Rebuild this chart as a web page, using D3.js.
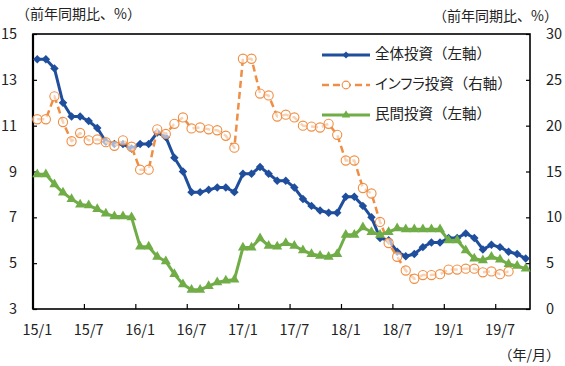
<!DOCTYPE html>
<html>
<head>
<meta charset="utf-8">
<script src="https://cdn.jsdelivr.net/npm/d3@7"></script>
<style>
  body { margin: 0; background: #fff; }
  svg { display: block; font-family: "Noto Sans CJK JP", "Noto Sans", sans-serif; }
  .tick text { fill: #222; }
</style>
</head>
<body>
<svg id="chart" width="565" height="366"></svg>
<script>
// months 2015/1 .. 2019/10
var months = [];
for (var yy = 15; yy <= 19; yy++) {
	for (var mm = 1; mm <= 12; mm++) {
		if (yy == 19 && mm > 10) break;
		months.push(yy + "/" + mm);
	}
}
var tickLabels = ["15/1", "15/7", "16/1", "16/7", "17/1", "17/7", "18/1", "18/7", "19/1", "19/7"];
var leftTicks = [3, 5, 7, 9, 11, 13, 15];
var rightTicks = [0, 5, 10, 15, 20, 25, 30];

// 全体投資 (left axis)
var total = [
	13.9, 13.9, 13.5, 12.0, 11.4, 11.4, 11.2, 10.9, 10.3, 10.2, 10.2, 10.0,
	10.2, 10.2, 10.7, 10.5, 9.6, 9.0, 8.1, 8.1, 8.2, 8.3, 8.3, 8.1,
	8.9, 8.9, 9.2, 8.9, 8.6, 8.6, 8.3, 7.8, 7.5, 7.3, 7.2, 7.2,
	7.9, 7.9, 7.5, 7.0, 6.1, 6.0, 5.5, 5.3, 5.4, 5.7, 5.9, 5.9,
	6.1, 6.1, 6.3, 6.1, 5.6, 5.8, 5.7, 5.5, 5.4, 5.2
];
// インフラ投資 (right axis), ends 19/8
var infra = [
	20.7, 20.7, 23.2, 20.4, 18.3, 19.2, 18.4, 18.5, 18.2, 17.8, 18.4, 17.7,
	15.2, 15.2, 19.6, 19.1, 20.2, 20.9, 19.7, 19.8, 19.6, 19.5, 18.9, 17.6,
	27.3, 27.3, 23.5, 23.3, 21.0, 21.2, 20.9, 20.0, 19.9, 19.8, 20.2, 19.0,
	16.2, 16.2, 13.2, 12.6, 9.5, 7.2, 5.7, 4.2, 3.3, 3.7, 3.7, 3.8,
	4.3, 4.3, 4.4, 4.4, 4.0, 4.1, 3.8, 4.1
];
// 民間投資 (drawn on right scale)
var privateInv = [
	14.7, 14.7, 13.6, 12.7, 12.0, 11.4, 11.3, 10.9, 10.4, 10.1, 10.1, 10.0,
	6.8, 6.8, 5.7, 5.2, 3.8, 2.7, 2.1, 2.1, 2.5, 2.9, 3.1, 3.2,
	6.7, 6.7, 7.7, 6.9, 6.8, 7.2, 6.9, 6.4, 6.0, 5.8, 5.7, 6.0,
	8.1, 8.1, 8.9, 8.4, 8.1, 8.4, 8.8, 8.7, 8.7, 8.7, 8.7, 8.7,
	7.5, 7.5, 6.4, 5.5, 5.3, 5.7, 5.4, 4.9, 4.7, 4.4
];

var blue = "#1F4E9C", orange = "#EF8E44", green = "#70AD47";
var plotL = 33, plotR = 530, plotT = 34, plotB = 309;

var svg = d3.select("#chart");

var x = d3.scaleBand().domain(months).range([plotL, plotR]);
var yL = d3.scaleLinear().domain([3, 15]).range([plotB, plotT]);
var yR = d3.scaleLinear().domain([0, 30]).range([plotB, plotT]);
var cx = function(i) { return x(months[i]) + x.bandwidth() / 2; };

// axes
var axL = svg.append("g").attr("transform", "translate(" + plotL + ",0)")
	.call(d3.axisLeft(yL).tickValues(leftTicks).tickSize(-4).tickPadding(16));
var axR = svg.append("g").attr("transform", "translate(" + plotR + ",0)")
	.call(d3.axisRight(yR).tickValues(rightTicks).tickSize(-4).tickPadding(16));
var axB = svg.append("g").attr("transform", "translate(0," + plotB + ")")
	.call(d3.axisBottom(x).tickValues(tickLabels).tickSize(0).tickPadding(16));
[axL, axR, axB].forEach(function(g) {
	g.select(".domain").remove();
	g.selectAll(".tick line").attr("stroke", "#000").attr("stroke-width", 1.2);
	g.selectAll(".tick text").attr("font-size", 14.5).attr("font-family", "Noto Sans CJK JP");
});

// x tick marks at category boundaries, every 6 months
svg.append("g").selectAll("line").data(tickLabels.slice(1)).enter().append("line")
	.attr("x1", function(d) { return x(d); }).attr("x2", function(d) { return x(d); })
	.attr("y1", plotB).attr("y2", plotB - 5)
	.attr("stroke", "#000").attr("stroke-width", 1.2);

// frame
svg.append("rect").attr("x", plotL).attr("y", plotT)
	.attr("width", plotR - plotL).attr("height", plotB - plotT)
	.attr("fill", "none").attr("stroke", "#000").attr("stroke-width", 1.6);
svg.append("line").attr("x1", plotL).attr("x2", plotL).attr("y1", plotT).attr("y2", plotB)
	.attr("stroke", "#000").attr("stroke-width", 2.2);

// unit labels
svg.append("text").attr("x", 16).attr("y", 15).attr("dominant-baseline", "middle")
	.attr("font-size", 14).attr("fill", "#222").text("（前年同期比、%）");
svg.append("text").attr("x", 558).attr("y", 17).attr("dominant-baseline", "middle")
	.attr("text-anchor", "end").attr("font-size", 14).attr("fill", "#222").text("（前年同期比、%）");
svg.append("text").attr("x", 560).attr("y", 356).attr("dominant-baseline", "middle")
	.attr("text-anchor", "end").attr("font-size", 14).attr("fill", "#222").text("（年/月）");

var plot = svg.append("g");

var drawSeries = function(data, y, color, opts) {
	var line = d3.line().x(function(d, i) { return cx(i); }).y(function(d) { return y(d); });
	plot.append("path").datum(data).attr("d", line)
		.attr("fill", "none").attr("stroke", color).attr("stroke-width", opts.width)
		.attr("stroke-dasharray", opts.dash || null).attr("stroke-linejoin", "round");
	plot.append("g").selectAll("path").data(data).enter().append("path")
		.attr("d", d3.symbol(opts.symbol, opts.size))
		.attr("transform", function(d, i) {
			return "translate(" + cx(i) + "," + y(d) + ")" + (opts.rotate ? " rotate(45)" : "");
		})
		.attr("fill", opts.fill).attr("fill-opacity", opts.fillOpacity || 1)
		.attr("stroke", color).attr("stroke-width", opts.strokeWidth || 0);
};

var blueOpts = { width: 3, symbol: d3.symbolSquare, size: 36, rotate: true, fill: blue };
var orangeOpts = { width: 2.5, dash: "7,4", symbol: d3.symbolCircle, size: 66, fill: "#fff", fillOpacity: 0.6, strokeWidth: 1.1 };
var greenOpts = { width: 3, symbol: d3.symbolTriangle, size: 44, fill: green };

drawSeries(total, yL, blue, blueOpts);
drawSeries(infra, yR, orange, orangeOpts);
drawSeries(privateInv, yR, green, greenOpts);

// legend
var legendItems = [
	{ name: "全体投資", axis: "（左軸）", color: blue, opts: blueOpts },
	{ name: "インフラ投資", axis: "（右軸）", color: orange, opts: orangeOpts },
	{ name: "民間投資", axis: "（左軸）", color: green, opts: greenOpts }
];
var lg = svg.append("g").selectAll("g").data(legendItems).enter().append("g")
	.attr("transform", function(d, i) { return "translate(322," + (55 + i * 30) + ")"; });
lg.append("line").attr("x1", 0).attr("x2", 48)
	.attr("stroke", function(d) { return d.color; })
	.attr("stroke-width", function(d) { return d.opts.width; })
	.attr("stroke-dasharray", function(d) { return d.opts.dash || null; });
lg.append("path")
	.attr("d", function(d) { return d3.symbol(d.opts.symbol, d.opts.size * 0.7)(); })
	.attr("transform", function(d) { return "translate(24,0)" + (d.opts.rotate ? " rotate(45)" : ""); })
	.attr("fill", function(d) { return d.opts.fill; })
	.attr("stroke", function(d) { return d.color; })
	.attr("stroke-width", function(d) { return d.opts.strokeWidth || 0; });
var lt = lg.append("text").attr("x", 53).attr("dominant-baseline", "middle")
	.attr("font-size", 14.5).attr("fill", "#222");
lt.append("tspan").style("font-feature-settings", "'palt'").text(function(d) { return d.name; });
lt.append("tspan").text(function(d) { return d.axis; });
</script>
</body>
</html>
